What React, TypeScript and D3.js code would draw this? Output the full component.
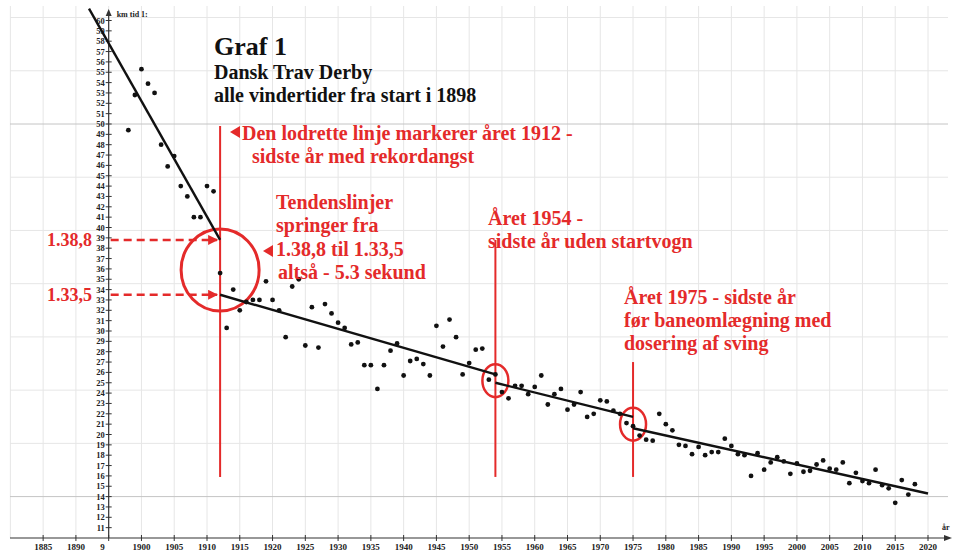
import { useEffect } from "react";
import * as d3 from "d3";

// winner times (seconds after 1 min, "km tid 1:") per year
const years = [
  1898, 1899, 1900, 1901, 1902, 1903, 1904, 1905, 1906, 1907, 1908, 1909, 1910, 1911, 1912,
  1913, 1914, 1915, 1916, 1917, 1918, 1919, 1920, 1921, 1922, 1923, 1924, 1925, 1926, 1927,
  1928, 1929, 1930, 1931, 1932, 1933, 1934, 1935, 1936, 1937, 1938, 1939, 1940, 1941, 1942,
  1943, 1944, 1945, 1946, 1947, 1948, 1949, 1950, 1951, 1952, 1953, 1954, 1955, 1956, 1957,
  1958, 1959, 1960, 1961, 1962, 1963, 1964, 1965, 1966, 1967, 1968, 1969, 1970, 1971, 1972,
  1973, 1974, 1975, 1976, 1977, 1978, 1979, 1980, 1981, 1982, 1983, 1984, 1985, 1986, 1987,
  1988, 1989, 1990, 1991, 1992, 1993, 1994, 1995, 1996, 1997, 1998, 1999, 2000, 2001, 2002,
  2003, 2004, 2005, 2006, 2007, 2008, 2009, 2010, 2011, 2012, 2013, 2014, 2015, 2016, 2017,
  2018,
];
const times = [
  49.4, 52.8, 55.3, 53.9, 53.0, 48.0, 45.9, 46.9, 44.0, 43.0, 41.0, 41.0, 44.0, 43.5, 35.6,
  30.3, 34.0, 32.0, 32.8, 33.0, 33.0, 34.8, 33.0, 32.0, 29.4, 34.3, 35.0, 28.6, 32.3, 28.4,
  32.6, 31.7, 30.8, 30.3, 28.7, 28.9, 26.7, 26.7, 24.4, 26.7, 28.1, 28.8, 25.7, 27.1, 27.3,
  26.8, 25.7, 30.5, 28.5, 31.1, 29.4, 25.8, 26.9, 28.2, 28.3, 25.3, 25.8, 24.1, 23.5, 24.7,
  24.7, 23.9, 24.6, 25.7, 22.9, 23.9, 24.4, 22.4, 22.9, 24.1, 21.7, 22.0, 23.3, 23.2, 22.3,
  22.0, 21.1, 20.8, 19.9, 19.5, 19.4, 22.0, 21.0, 20.4, 19.0, 18.9, 18.1, 18.8, 18.0, 18.3,
  18.3, 19.6, 18.9, 18.1, 18.0, 16.0, 18.2, 16.6, 17.3, 17.8, 17.4, 16.2, 17.2, 16.4, 16.5,
  17.1, 17.5, 16.7, 16.6, 17.3, 15.3, 16.3, 15.5, 15.3, 16.6, 15.1, 14.8, 13.4, 15.6, 14.2,
  15.2,
];

// trend line segments: [startYear, startValue, endYear, endValue]
const trendFrom = [1892, 1912, 1954, 1975];
const trendFromVal = [61.15, 33.5, 25.0, 20.6];
const trendTo = [1912, 1954, 1975, 2020];
const trendToVal = [38.8, 25.8, 21.7, 14.3];

// marked years (red verticals) and their line tops
const markYears = [1912, 1954, 1975];
const markTops = [49.8, 38.8, 27.0];
const markCircleVals = [35.9, 25.2, 21.0];

const xTickYears = d3.range(1885, 2021, 5);
const yTickVals = d3.range(11, 61);
const levels = [38.8, 33.5];
const levelLabels = ["1.38,8", "1.33,5"];

const RED = "#e42a2a";
const SERIF = "'Liberation Serif', 'Times New Roman', serif";

export default function App() {
  useEffect(() => {
    document.body.style.margin = "0";
  }, []);

  const W = 958;
  const H = 551;
  const x = d3.scaleLinear().domain([1910, 2020]).range([207, 928]);
  const y = d3.scaleLinear().domain([10, 50]).range([538, 124]);
  const x0 = x(1895);
  const yBase = y(10);

  const gridStep = 36 / 7;
  const hGrid = d3.range(-3, 9).map((k) => 50 - k * gridStep).filter((v) => y(v) > 5 && y(v) < yBase);
  const vGrid = d3.range(1880, 2025, 5);

  const bigR = 40;

  return (
    <svg width={W} height={H} style={{ display: "block", background: "#fff" }} fontFamily={SERIF}>
      <defs>
        <marker id="redArrow" viewBox="0 -5 10 10" refX="9" refY="0" markerWidth="4" markerHeight="4" orient="auto">
          <path d="M0,-5L10,0L0,5Z" fill={RED} />
        </marker>
      </defs>

      {/* grid */}
      <g stroke="#e6e6e6" strokeWidth={1}>
        {vGrid.map((yr) => (
          <line key={yr} x1={x(yr)} x2={x(yr)} y1={6} y2={yBase} />
        ))}
        {hGrid.map((v) => (
          <line key={v} x1={10} x2={948} y1={y(v)} y2={y(v)} stroke={Math.abs(v - 50) < 0.01 || Math.abs(v - 14) < 0.01 ? "#c4c4c4" : "#e6e6e6"} />
        ))}
      </g>

      {/* x axis */}
      <line x1={10} x2={946} y1={yBase} y2={yBase} stroke="#333" strokeWidth={1.2} />
      <path d={`M${952},${yBase} l-8,-3 l0,6 Z`} fill="#333" />
      {xTickYears.map((yr) => (
        <g key={yr}>
          <line x1={x(yr)} x2={x(yr)} y1={yBase - 3} y2={yBase + 3} stroke="#333" strokeWidth={1} />
          {yr !== 1895 && (
            <text x={x(yr)} y={yBase + 12} fontSize={9} fontWeight="bold" textAnchor="middle" fill="#222">
              {yr}
            </text>
          )}
        </g>
      ))}
      <text x={x0 - 4} y={yBase + 12} fontSize={9} fontWeight="bold" textAnchor="end" fill="#222">9</text>
      <text x={942} y={yBase - 8} fontSize={8} fontWeight="bold" fill="#222">år</text>

      {/* y axis */}
      <line x1={x0} x2={x0} y1={yBase} y2={14} stroke="#333" strokeWidth={1.2} />
      <path d={`M${x0},${9} l-3,7 l6,0 Z`} fill="#333" />
      {yTickVals.map((v) => (
        <g key={v}>
          <line x1={x0 - 3} x2={x0 + 3} y1={y(v)} y2={y(v)} stroke="#333" strokeWidth={1} />
          <text x={x0 - 4} y={y(v) + 3} fontSize={8.5} fontWeight="bold" textAnchor="end" fill="#222">
            {v}
          </text>
        </g>
      ))}
      <text x={x0 + 8} y={17} fontSize={8} fontWeight="bold" fill="#222">km tid 1:</text>

      {/* title */}
      <text x={214} y={55} fontSize={26} fontWeight="bold" fill="#111">Graf 1</text>
      <text x={214} y={79} fontSize={20} fontWeight="bold" fill="#111">Dansk Trav Derby</text>
      <text x={214} y={102} fontSize={20} fontWeight="bold" fill="#111">alle vindertider fra start i 1898</text>

      {/* red markers */}
      <g stroke={RED} fill="none">
        {markYears.map((yr, i) => (
          <line key={yr} x1={x(yr)} x2={x(yr)} y1={y(markTops[i])} y2={y(15.9)} strokeWidth={2} />
        ))}
        <ellipse cx={x(markYears[0])} cy={y(markCircleVals[0])} rx={bigR - 1} ry={bigR + 1} strokeWidth={3} />
        <ellipse cx={x(markYears[1])} cy={y(markCircleVals[1])} rx={13} ry={16.5} strokeWidth={2.5} />
        <ellipse cx={x(markYears[2])} cy={y(markCircleVals[2])} rx={13} ry={16.5} strokeWidth={2.5} />
        {levels.map((v) => (
          <line key={v} x1={x0 + 2} x2={x(1912) - 3} y1={y(v)} y2={y(v)} strokeWidth={2.5} strokeDasharray="8,5" markerEnd="url(#redArrow)" />
        ))}
      </g>
      {levels.map((v, i) => (
        <text key={v} x={92} y={y(v) + 6} fontSize={18} fontWeight="bold" textAnchor="end" fill={RED}>
          {levelLabels[i]}
        </text>
      ))}

      {/* trend lines */}
      <g stroke="#111" strokeWidth={2.4}>
        {trendFrom.map((yr, i) => (
          <line key={yr} x1={x(yr)} y1={y(trendFromVal[i])} x2={x(trendTo[i])} y2={y(trendToVal[i])} />
        ))}
      </g>

      {/* points */}
      <g fill="#111">
        {years.map((yr, i) => (
          <circle key={yr} cx={x(yr)} cy={y(times[i])} r={2.4} />
        ))}
      </g>

      {/* annotations */}
      <g fill={RED} fontSize={20} fontWeight="bold">
        <path d="M230,132 l10,-6 l0,12 Z" />
        <text x={242} y={140}>Den lodrette linje markerer året 1912 -</text>
        <text x={252} y={163}>sidste år med rekordangst</text>
        <text x={276} y={209}>Tendenslinjer</text>
        <text x={276} y={232}>springer fra</text>
        <path d="M263,251 l10,-6 l0,12 Z" />
        <text x={276} y={256}>1.38,8 til 1.33,5</text>
        <text x={278} y={279}>altså - 5.3 sekund</text>
        <text x={488} y={225}>Året 1954 -</text>
        <text x={488} y={248}>sidste år uden startvogn</text>
        <text x={624} y={304}>Året 1975 - sidste år</text>
        <text x={624} y={327}>før baneomlægning med</text>
        <text x={624} y={350}>dosering af sving</text>
      </g>
    </svg>
  );
}
